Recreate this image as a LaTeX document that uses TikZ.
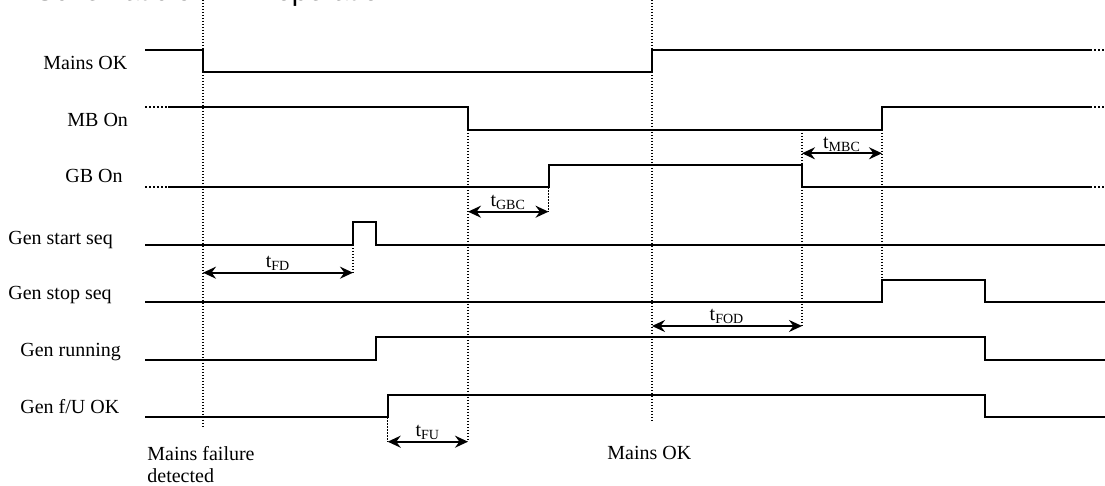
\documentclass[tikz,border=0pt]{standalone}
\usepackage{fontspec}
\setmainfont{Liberation Serif}
\newfontfamily\headfont{Liberation Sans}
\usetikzlibrary{arrows.meta}
\tikzset{
  signal/.style={line width=1pt, line join=miter},
  sigcont/.style={line width=1pt, dash pattern=on 1pt off 1pt},
  guide/.style={line width=0.75pt, dash pattern=on 0.75pt off 0.75pt},
  timer/.style={line width=1pt,
    {Stealth[length=6.5pt,width=6pt,inset=2.2pt]}-{Stealth[length=6.5pt,width=6pt,inset=2.2pt]}},
  siglabel/.style={anchor=base west, inner sep=0pt, font=\fontsize{10}{11}\selectfont},
  tlabel/.style={above, inner sep=0.5pt, font=\fontsize{10}{11}\selectfont},
}

\begin{document}
\begin{tikzpicture}[x=0.5pt,y=-0.5pt]
  \useasboundingbox (0,0) rectangle (1105,486);

  % heading, cut by the page edge
  \node[anchor=base west, inner sep=0pt, font=\headfont\fontsize{14.25}{16}\selectfont]
    (heading) at (35,0.5) {Schematic of AMF operation};

  % signal names
  \node[siglabel] (mainsok)  at (43,69.5) {Mains OK};
  \node[siglabel] (mbon)     at (67,127)  {MB On};
  \node[siglabel] (gbon)     at (65,183)  {GB On};
  \node[siglabel] (startseq) at (8,245)   {Gen start seq};
  \node[siglabel] (stopseq)  at (8,300)   {Gen stop seq};
  \node[siglabel] (genrun)   at (20,357)  {Gen running};
  \node[siglabel] (genok)    at (20,414)  {Gen f/U OK};

  % guide lines
  \draw[guide] (203,0) -- (203,427);
  \draw[guide] (652,0) -- (652,423);
  \draw[guide] (468,130) -- (468,441.7);
  \draw[guide] (548.5,187.5) -- (548.5,211.7);
  \draw[guide] (353,245) -- (353,272.7);
  \draw[guide] (802,130) -- (802,326);
  \draw[guide] (882,130) -- (882,280);
  \draw[guide] (387.7,417.5) -- (387.7,441.7);

  % signals
  \draw[signal] (145,50) -- (203,50) -- (203,72.5) -- (652,72.5) -- (652,50) -- (1090,50);
  \draw[sigcont] (1090,50) -- (1105,50);

  \draw[sigcont] (145,107.5) -- (168,107.5);
  \draw[signal] (168,107.5) -- (468,107.5) -- (468,130) -- (882,130) -- (882,107.5) -- (1090,107.5);
  \draw[sigcont] (1090,107.5) -- (1105,107.5);

  \draw[sigcont] (145,187.5) -- (168,187.5);
  \draw[signal] (168,187.5) -- (548.5,187.5) -- (548.5,165) -- (802,165) -- (802,187.5) -- (1090,187.5);
  \draw[sigcont] (1090,187.5) -- (1105,187.5);

  \draw[signal] (145,245) -- (353,245) -- (353,222.5) -- (376,222.5) -- (376,245) -- (1105,245);
  \draw[signal] (145,302.5) -- (882,302.5) -- (882,280) -- (985,280) -- (985,302.5) -- (1105,302.5);
  \draw[signal] (145,360) -- (376,360) -- (376,337.5) -- (985,337.5) -- (985,360) -- (1105,360);
  \draw[signal] (145,417.5) -- (387.7,417.5) -- (387.7,395) -- (985,395) -- (985,417.5) -- (1105,417.5);

  % timers
  \coordinate (fd-a)  at (203,272.7);   \coordinate (fd-b)  at (353,272.7);
  \coordinate (gbc-a) at (468,211.7);   \coordinate (gbc-b) at (548.5,211.7);
  \coordinate (mbc-a) at (802,153.3);   \coordinate (mbc-b) at (882,153.3);
  \coordinate (fod-a) at (652,326);     \coordinate (fod-b) at (802,326);
  \coordinate (fu-a)  at (387.7,441.7); \coordinate (fu-b)  at (468,441.7);

  \draw[timer] (fd-a) -- node[tlabel] {t\textsubscript{FD}} (fd-b);
  \draw[timer] (gbc-a) -- node[tlabel] {t\textsubscript{GBC}} (gbc-b);
  \draw[timer] (mbc-a) -- node[tlabel] {t\textsubscript{MBC}} (mbc-b);
  \draw[timer] (fod-a) -- node[tlabel] {t\textsubscript{FOD}} (fod-b);
  \draw[timer] (fu-a) -- node[tlabel] {t\textsubscript{FU}} (fu-b);

  % events
  \node[anchor=north west, inner sep=0pt, align=left, font=\fontsize{10}{11}\selectfont]
    (failevent) at (147,446) {Mains failure\\detected};
  \node[siglabel] (okevent) at (607,460) {Mains OK};
\end{tikzpicture}
\end{document}
